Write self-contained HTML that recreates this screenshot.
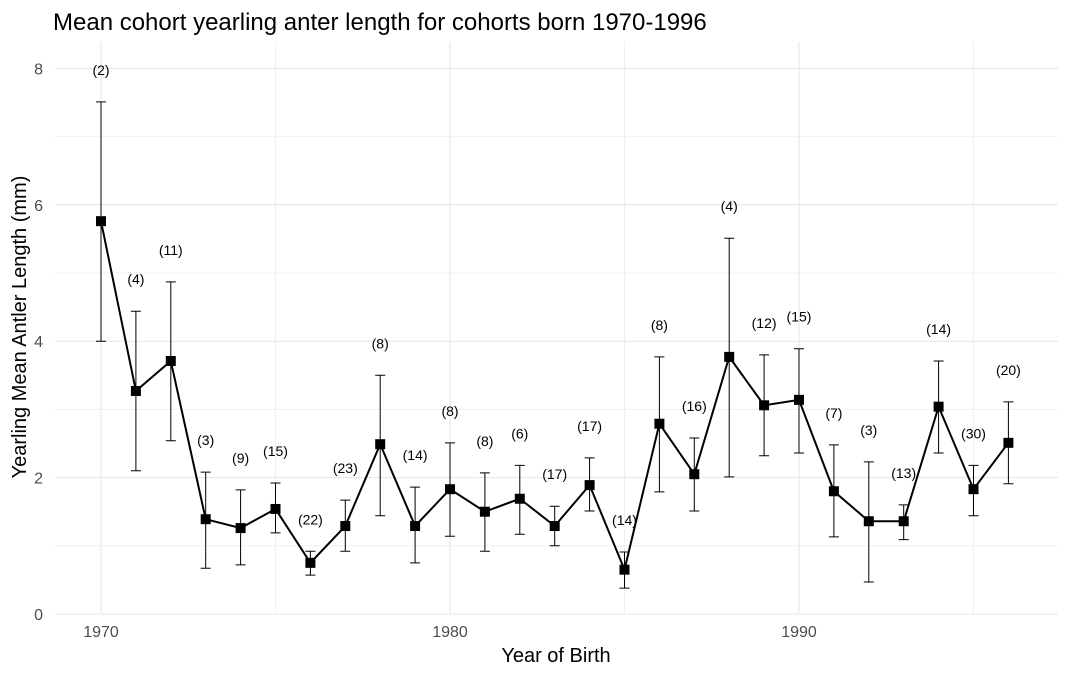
<!DOCTYPE html>
<html><head><meta charset="utf-8"><style>
body{margin:0;background:#fff;}
svg{display:block;font-family:"Liberation Sans",sans-serif;}
</style></head><body>
<svg id="chart" width="1069" height="674">
<text x="53" y="30" font-size="24" fill="#000">Mean cohort yearling anter length for cohorts born 1970-1996</text>
<g id="grid"></g>
<g id="marks"></g>
<text x="556" y="662" font-size="20" text-anchor="middle">Year of Birth</text>
<text transform="translate(26,327) rotate(-90)" font-size="20" text-anchor="middle">Yearling Mean Antler Length (mm)</text>
</svg>
<script>
const years=[1970,1971,1972,1973,1974,1975,1976,1977,1978,1979,1980,1981,1982,1983,1984,1985,1986,1987,1988,1989,1990,1991,1992,1993,1994,1995,1996];
const means=[5.76,3.27,3.71,1.39,1.26,1.54,0.75,1.29,2.49,1.29,1.83,1.50,1.69,1.29,1.89,0.65,2.79,2.05,3.77,3.06,3.14,1.80,1.36,1.36,3.04,1.83,2.51];
const uppers=[7.51,4.44,4.87,2.08,1.82,1.92,0.92,1.67,3.50,1.86,2.51,2.07,2.18,1.58,2.29,0.91,3.77,2.58,5.51,3.80,3.89,2.48,2.23,1.60,3.71,2.18,3.11];
const lowers=[4.00,2.10,2.54,0.67,0.72,1.19,0.57,0.92,1.44,0.75,1.14,0.92,1.17,1.00,1.51,0.38,1.79,1.51,2.01,2.32,2.36,1.13,0.47,1.09,2.36,1.44,1.91];
const counts=[2,4,11,3,9,15,22,23,8,14,8,8,6,17,17,14,8,16,4,12,15,7,3,13,14,30,20];
const xTicks=[1970,1980,1990];
const xMinor=[1975,1985,1995];
const yTicks=[0,2,4,6,8];
const yMinor=[1,3,5,7];
const X=v=>101+(v-1970)*34.9;
const Y=v=>614-v*68.2;
const NS="http://www.w3.org/2000/svg";
function mk(tag,attrs,parent){const e=document.createElementNS(NS,tag);for(const k in attrs)e.setAttribute(k,attrs[k]);parent.appendChild(e);return e;}
const g=document.getElementById('grid'),m=document.getElementById('marks');
yMinor.forEach(v=>{const l=mk('line',{x1:55,x2:1058,y1:Y(v),y2:Y(v),stroke:'#f0f0f0','stroke-width':1},g);

});
xMinor.forEach(v=>{const l=mk('line',{x1:X(v),x2:X(v),y1:42,y2:614,stroke:'#f0f0f0','stroke-width':1},g);

});
yTicks.forEach(v=>{const l=mk('line',{x1:55,x2:1058,y1:Y(v),y2:Y(v),stroke:'#e5e5e5','stroke-width':1},g);


const t=mk('text',{x:43,y:Y(v)+6,'font-size':16,fill:'#4d4d4d','text-anchor':'end'},g);t.textContent=v;

});
xTicks.forEach(v=>{const l=mk('line',{x1:X(v),x2:X(v),y1:42,y2:614,stroke:'#e5e5e5','stroke-width':1},g);


const t=mk('text',{x:X(v),y:637,'font-size':16,fill:'#4d4d4d','text-anchor':'middle'},g);t.textContent=v;

});
const p=mk('polyline',{points:years.map((y,i)=>X(y)+','+Y(means[i])).join(' '),fill:'none',stroke:'#000','stroke-width':2},m);


years.forEach((yr,i)=>{const x=X(yr);
const e=mk('path',{d:`M${x-5},${Y(uppers[i])}H${x+5}M${x},${Y(uppers[i])}V${Y(lowers[i])}M${x-5},${Y(lowers[i])}H${x+5}`,stroke:'#000','stroke-width':1,fill:'none'},m);


const r=mk('rect',{x:x-5,y:Y(means[i])-5,width:10,height:10,fill:'#000'},m);


const t=mk('text',{x:x,y:Y(uppers[i])-27,'font-size':14,'text-anchor':'middle',fill:'#000'},m);t.textContent='('+counts[i]+')';

});
</script>
</body></html>
